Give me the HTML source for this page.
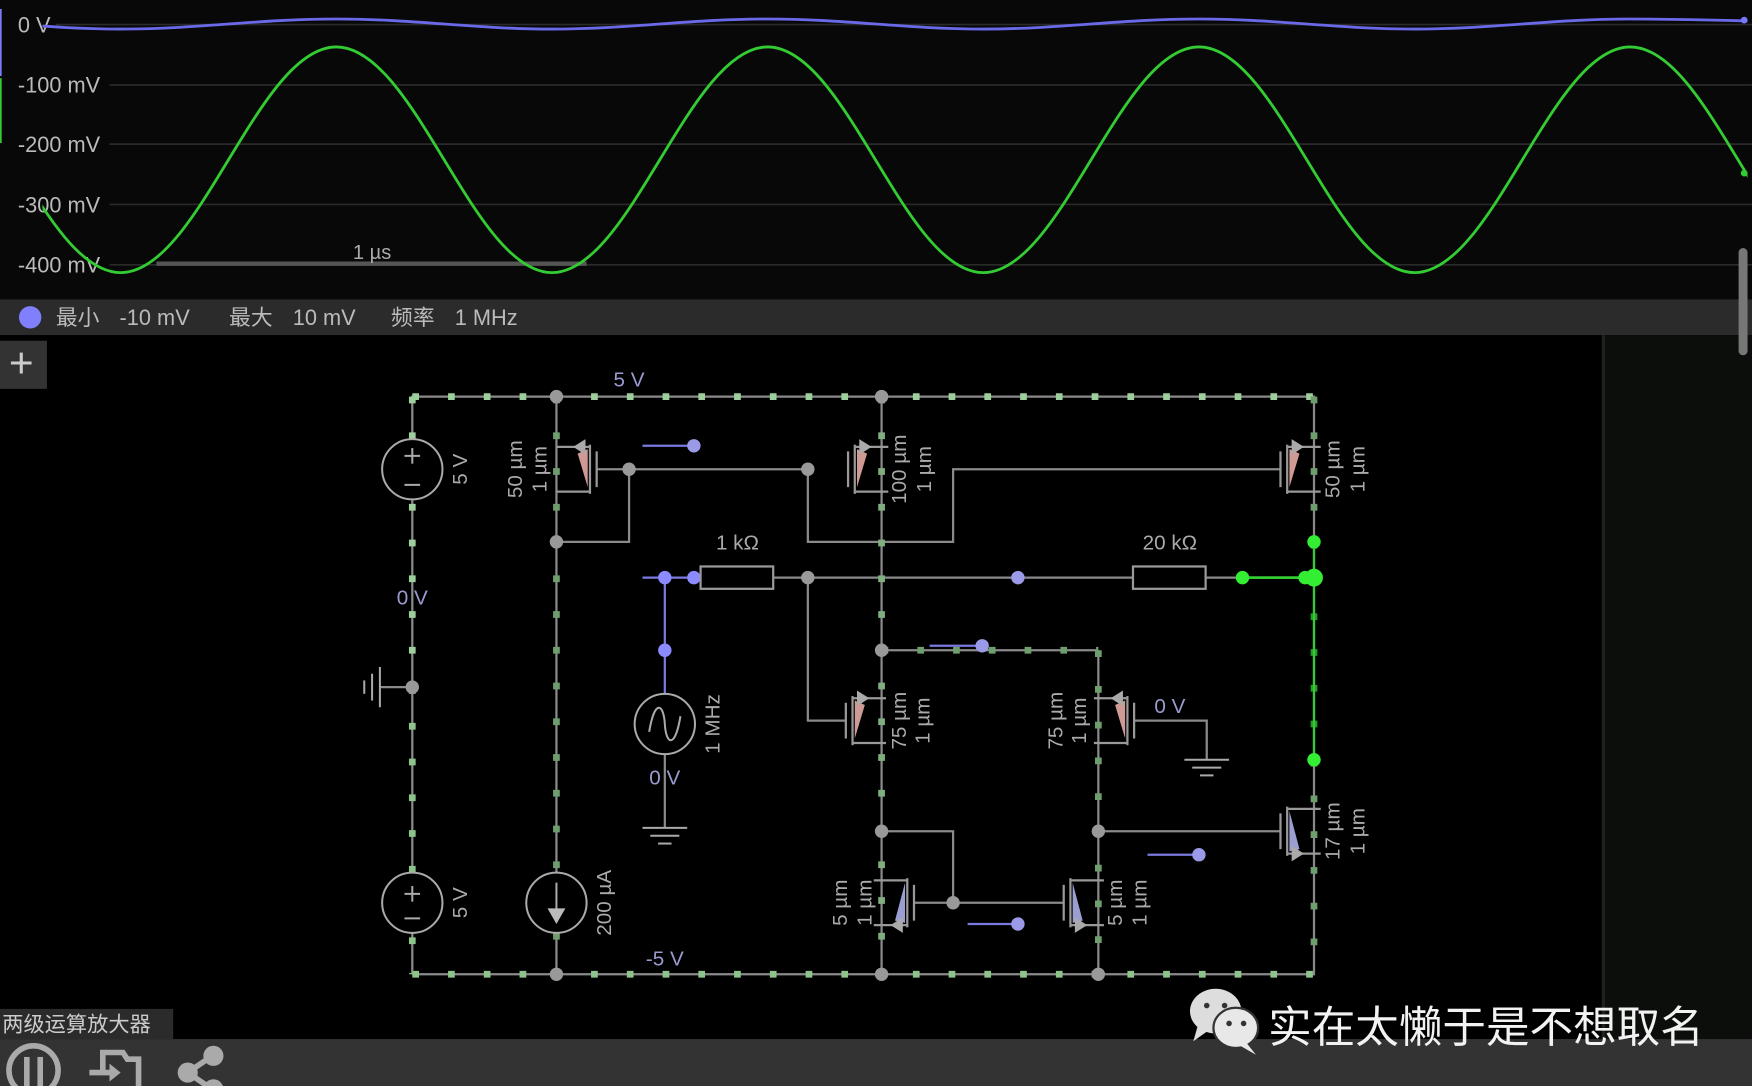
<!DOCTYPE html>
<html><head><meta charset="utf-8"><style>
html,body{margin:0;padding:0;background:#000;overflow:hidden}
svg{display:block}
text{font-family:"Liberation Sans","Noto Sans CJK SC",sans-serif}
</style></head><body>
<svg width="1752" height="1086" viewBox="0 0 1568 972" preserveAspectRatio="none" xmlns="http://www.w3.org/2000/svg">
<defs>
<clipPath id="sc"><rect x="38" y="0" width="1526" height="268"/></clipPath>
<g id="pm">
 <line x1="0" y1="-22" x2="0" y2="22" stroke="#999" stroke-width="2"/>
 <line x1="6" y1="-16" x2="6" y2="16" stroke="#999" stroke-width="2"/>
 <polyline points="-30,-20 0,-20" stroke="#999" stroke-width="2" fill="none"/>
 <polyline points="-30,20 0,20" stroke="#999" stroke-width="2" fill="none"/>
 <polygon points="-2,-18 -11,-14 -2,16" fill="#d09a94"/>
 <polygon points="-15,-20 -4,-27 -4,-13" fill="#aaa"/>
</g>
<g id="nm">
 <line x1="0" y1="-22" x2="0" y2="22" stroke="#999" stroke-width="2"/>
 <line x1="6" y1="-16" x2="6" y2="16" stroke="#999" stroke-width="2"/>
 <polyline points="-30,-20 0,-20" stroke="#999" stroke-width="2" fill="none"/>
 <polyline points="-30,20 0,20" stroke="#999" stroke-width="2" fill="none"/>
 <polygon points="-2,-18 -2,18 -11,16" fill="#9a9ed0"/>
 <polygon points="-15,20 -4,13 -4,27" fill="#aaa"/>
</g>
</defs>

<rect x="0" y="0" width="1568" height="268" fill="#080808"/>
<g stroke="#2a2a2a" stroke-width="1.5">
<line x1="50" y1="22" x2="1568" y2="22"/><line x1="98" y1="76" x2="1568" y2="76"/>
<line x1="98" y1="129" x2="1568" y2="129"/><line x1="98" y1="183" x2="1568" y2="183"/>
<line x1="98" y1="237" x2="1568" y2="237"/>
</g>
<g fill="#bbb" font-size="19.5">
<text x="16" y="29">0 V</text><text x="16" y="83">-100 mV</text><text x="16" y="136">-200 mV</text>
<text x="16" y="190">-300 mV</text><text x="16" y="244">-400 mV</text>
</g>
<line x1="0" y1="8" x2="0" y2="68" stroke="#7a7aff" stroke-width="3"/>
<line x1="0" y1="70" x2="0" y2="128" stroke="#3c3" stroke-width="3"/>
<line x1="140" y1="236" x2="525" y2="236" stroke="#555" stroke-width="4"/>
<text x="333" y="232" fill="#aaa" font-size="18" text-anchor="middle">1 µs</text>
<g clip-path="url(#sc)">
<path d="M-85 17 C-14.7 17 37.7 26 108 26 C178.3 26 230.7 17 301 17 C371.3 17 423.7 26 494 26 C564.3 26 616.7 17 687 17 C757.3 17 809.7 26 880 26 C950.3 26 1002.7 17 1073 17 C1143.3 17 1195.7 26 1266 26 C1336.3 26 1388.7 17 1459 17 C1529.3 17 1581.7 20 1652 20" stroke="#6a6ae8" stroke-width="2.5" fill="none"/>
<path d="M-85 42 C-14.7 42 37.7 244 108 244 C178.3 244 230.7 42 301 42 C371.3 42 423.7 244 494 244 C564.3 244 616.7 42 687 42 C757.3 42 809.7 244 880 244 C950.3 244 1002.7 42 1073 42 C1143.3 42 1195.7 244 1266 244 C1336.3 244 1388.7 42 1459 42 C1529.3 42 1581.7 244 1652 244" stroke="#33cc33" stroke-width="2.5" fill="none"/>
</g>
<circle cx="1561" cy="155" r="3" fill="#3c3"/>
<circle cx="1561" cy="18" r="3" fill="#77f"/>

<rect x="0" y="268" width="1568" height="32" fill="#2b2b2b"/>
<circle cx="27" cy="284" r="10" fill="#8080ff"/>
<g fill="#bbb" font-size="19.5">
<text x="50" y="291">最小</text><text x="107" y="291">-10 mV</text>
<text x="205" y="291">最大</text><text x="262" y="291">10 mV</text>
<text x="350" y="291">频率</text><text x="407" y="291">1 MHz</text>
</g>

<rect x="0" y="300" width="1568" height="630" fill="#000"/>
<rect x="1435" y="300" width="133" height="630" fill="#0b0e0b"/>
<line x1="1435" y1="300" x2="1435" y2="930" stroke="#1e221e" stroke-width="3"/>
<rect x="1556" y="222" width="8" height="96" rx="4" fill="#777"/>
<rect x="0" y="305" width="42" height="43" fill="#333"/>
<text x="19" y="338" fill="#ccc" font-size="38" text-anchor="middle">+</text>

<g stroke="#8a8a8a" stroke-width="2" fill="none">
<polyline points="369,872 369,355 1176,355 1176,872 369,872"/>
<line x1="498" y1="355" x2="498" y2="872"/>
<line x1="789" y1="355" x2="789" y2="872"/>
<line x1="983" y1="582" x2="983" y2="872"/>
<line x1="789" y1="582" x2="983" y2="582"/>
<polyline points="534,420 723,420"/>
<polyline points="563,420 563,485 498,485"/>
<polyline points="723,420 723,485 853,485 853,420 1146,420"/>
<line x1="625" y1="517" x2="1014" y2="517"/>
<line x1="1079" y1="517" x2="1112" y2="517"/>
<polyline points="723,517 723,645 757,645"/>
<polyline points="1015,645 1080,645 1080,680"/>
<polyline points="789,744 853,744 853,808"/>
<line x1="818" y1="808" x2="952" y2="808"/>
<line x1="983" y1="744" x2="1146" y2="744"/>
<polyline points="369,615 340,615"/>
<line x1="595" y1="675" x2="595" y2="741"/>
</g>
<g stroke-width="6" fill="none" stroke-dasharray="6 26">
<polyline stroke="#9ccf9c" points="369,355 1176,355"/>
<polyline stroke="#8cc48c" points="369,872 1176,872"/>
<polyline stroke="#9ccf9c" points="369,355 369,615"/>
<polyline stroke="#8cc48c" points="369,615 369,872"/>
<polyline stroke="#6e9e6e" points="498,355 498,872"/>
<polyline stroke="#7fae7f" points="789,355 789,872"/>
<polyline stroke="#6e9e6e" points="983,582 983,872"/>
<polyline stroke="#6e9e6e" points="789,582 983,582"/>
<polyline stroke="#6e9e6e" points="1176,355 1176,485"/>
<polyline stroke="#6e9e6e" points="1176,680 1176,872"/>
<polyline stroke="#2a9a2a" points="1176,485 1176,680"/>
</g>
<line x1="1176" y1="485" x2="1176" y2="680" stroke="#3c3" stroke-width="2"/>
<line x1="1112" y1="517" x2="1176" y2="517" stroke="#3c3" stroke-width="2.5"/>
<g stroke="#7a7ae0" stroke-width="2">
<line x1="575" y1="517" x2="625" y2="517"/>
<line x1="595" y1="517" x2="595" y2="621"/>
<line x1="575" y1="399" x2="621" y2="399"/>
<line x1="832" y1="578" x2="879" y2="578"/>
<line x1="1027" y1="765" x2="1073" y2="765"/>
<line x1="866" y1="827" x2="911" y2="827"/>
</g>
<g fill="#9a9ae8">
<circle cx="621" cy="399" r="6"/><circle cx="879" cy="578" r="6"/><circle cx="1073" cy="765" r="6"/>
<circle cx="911" cy="827" r="6"/><circle cx="911" cy="517" r="6"/>
</g>
<g fill="#8b8bff">
<circle cx="595" cy="517" r="6"/><circle cx="621" cy="517" r="6"/><circle cx="595" cy="582" r="6"/>
</g>
<rect x="627" y="507" width="65" height="20" fill="#000" stroke="#999" stroke-width="2"/>
<rect x="1014" y="507" width="65" height="20" fill="#000" stroke="#999" stroke-width="2"/>

<use href="#pm" transform="translate(528,420)"/>
<use href="#pm" transform="translate(765,420) scale(-1,1)"/>
<use href="#pm" transform="translate(1152,420) scale(-1,1)"/>
<use href="#pm" transform="translate(763,645) scale(-1,1)"/>
<use href="#pm" transform="translate(1009,645)"/>
<use href="#nm" transform="translate(812,808)"/>
<use href="#nm" transform="translate(958,808) scale(-1,1)"/>
<use href="#nm" transform="translate(1152,744) scale(-1,1)"/>

<g stroke="#aaa" stroke-width="1.8" fill="#000">
<circle cx="369" cy="420" r="27"/><circle cx="369" cy="808" r="27"/>
<circle cx="498" cy="808" r="27"/><circle cx="595" cy="648" r="27"/>
</g>
<g stroke="#aaa" stroke-width="1.8" fill="none">
<line x1="362" y1="408" x2="376" y2="408"/><line x1="369" y1="401" x2="369" y2="415"/>
<line x1="362" y1="434" x2="376" y2="434"/>
<line x1="362" y1="800" x2="376" y2="800"/><line x1="369" y1="793" x2="369" y2="807"/>
<line x1="362" y1="822" x2="376" y2="822"/>
<line x1="498" y1="790" x2="498" y2="815"/>
<path d="M581 655 C586 625 594 630 595 648 C596 666 604 671 609 641"/>
<line x1="575" y1="741" x2="615" y2="741"/><line x1="582" y1="748" x2="608" y2="748"/><line x1="589" y1="755" x2="601" y2="755"/>
<line x1="1060" y1="680" x2="1100" y2="680"/><line x1="1067" y1="687" x2="1093" y2="687"/><line x1="1074" y1="694" x2="1086" y2="694"/>
<line x1="340" y1="597" x2="340" y2="633"/><line x1="333" y1="603" x2="333" y2="627"/><line x1="326" y1="609" x2="326" y2="621"/>
</g>
<polygon points="490,813 506,813 498,827" fill="#bbb"/>

<g fill="#999">
<circle cx="498" cy="355" r="6"/><circle cx="789" cy="355" r="6"/><circle cx="563" cy="420" r="6"/>
<circle cx="723" cy="420" r="6"/><circle cx="498" cy="485" r="6"/><circle cx="723" cy="517" r="6"/>
<circle cx="789" cy="582" r="6"/><circle cx="789" cy="744" r="6"/><circle cx="853" cy="808" r="6"/>
<circle cx="983" cy="744" r="6"/><circle cx="498" cy="872" r="6"/><circle cx="789" cy="872" r="6"/>
<circle cx="983" cy="872" r="6"/><circle cx="369" cy="615" r="6"/>
</g>
<g fill="#33ee33">
<circle cx="1176" cy="485" r="6"/><circle cx="1176" cy="517" r="8"/><circle cx="1168" cy="517" r="6"/>
<circle cx="1112" cy="517" r="6"/><circle cx="1176" cy="680" r="6"/>
</g>

<g fill="#aaa" font-size="18.5" text-anchor="middle">
<text x="563" y="346" fill="#9a9ad0">5 V</text>
<text x="595" y="864" fill="#9a9ad0">-5 V</text>
<text x="369" y="541" fill="#9a9ad0">0 V</text>
<text x="595" y="702" fill="#9a9ad0">0 V</text>
<text x="1047" y="638" fill="#9a9ad0">0 V</text>
<text x="660" y="492">1 kΩ</text>
<text x="1047" y="492">20 kΩ</text>
</g>
<g fill="#aaa" font-size="18.5" text-anchor="middle">
<text transform="translate(412,420) rotate(-90)" dy="6">5 V</text>
<text transform="translate(412,808) rotate(-90)" dy="6">5 V</text>
<text transform="translate(541,808) rotate(-90)" dy="6">200 µA</text>
<text transform="translate(638,648) rotate(-90)" dy="6">1 MHz</text>
<text transform="translate(461,420) rotate(-90)" dy="6">50 µm</text>
<text transform="translate(483,420) rotate(-90)" dy="6">1 µm</text>
<text transform="translate(805,420) rotate(-90)" dy="6">100 µm</text>
<text transform="translate(827,420) rotate(-90)" dy="6">1 µm</text>
<text transform="translate(1193,420) rotate(-90)" dy="6">50 µm</text>
<text transform="translate(1215,420) rotate(-90)" dy="6">1 µm</text>
<text transform="translate(805,645) rotate(-90)" dy="6">75 µm</text>
<text transform="translate(826,645) rotate(-90)" dy="6">1 µm</text>
<text transform="translate(945,645) rotate(-90)" dy="6">75 µm</text>
<text transform="translate(966,645) rotate(-90)" dy="6">1 µm</text>
<text transform="translate(752,808) rotate(-90)" dy="6">5 µm</text>
<text transform="translate(774,808) rotate(-90)" dy="6">1 µm</text>
<text transform="translate(998,808) rotate(-90)" dy="6">5 µm</text>
<text transform="translate(1020,808) rotate(-90)" dy="6">1 µm</text>
<text transform="translate(1193,744) rotate(-90)" dy="6">17 µm</text>
<text transform="translate(1215,744) rotate(-90)" dy="6">1 µm</text>
</g>

<rect x="0" y="903" width="155" height="27" fill="#2b2b2b"/>
<text x="2" y="923" fill="#ccc" font-size="19">两级运算放大器</text>
<rect x="0" y="930" width="1568" height="42" fill="#333"/>
<g stroke="#aaa" stroke-width="5" fill="none">
<circle cx="30" cy="958" r="22"/>
<line x1="24" y1="946" x2="24" y2="972"/><line x1="36" y1="946" x2="36" y2="972"/>
<polyline points="92,960 92,942 110,942 114,948 124,948 124,972"/>
<line x1="80" y1="960" x2="100" y2="960"/>
<line x1="168" y1="960" x2="190" y2="945"/><line x1="168" y1="960" x2="190" y2="975"/>
</g>
<polygon points="98,952 108,960 98,968" fill="#aaa"/>
<g fill="#aaa"><circle cx="191" cy="945" r="9"/><circle cx="168" cy="960" r="9"/><circle cx="191" cy="975" r="9"/></g>

<ellipse cx="1088" cy="905" rx="23" ry="20" fill="#ddd"/>
<polygon points="1072,918 1068,932 1082,922" fill="#ddd"/>
<ellipse cx="1106" cy="920" rx="20" ry="18" fill="#e8e8e8" stroke="#333" stroke-width="2"/>
<polygon points="1116,934 1124,944 1110,936" fill="#e8e8e8"/>
<g fill="#333"><circle cx="1080" cy="900" r="2.5"/><circle cx="1096" cy="900" r="2.5"/><circle cx="1100" cy="916" r="2.5"/><circle cx="1113" cy="916" r="2.5"/></g>
<text x="1135" y="933" fill="#f2f2f2" font-size="39" font-family="'Noto Sans CJK SC',sans-serif">实在太懒于是不想取名</text>
</svg>
</body></html>
